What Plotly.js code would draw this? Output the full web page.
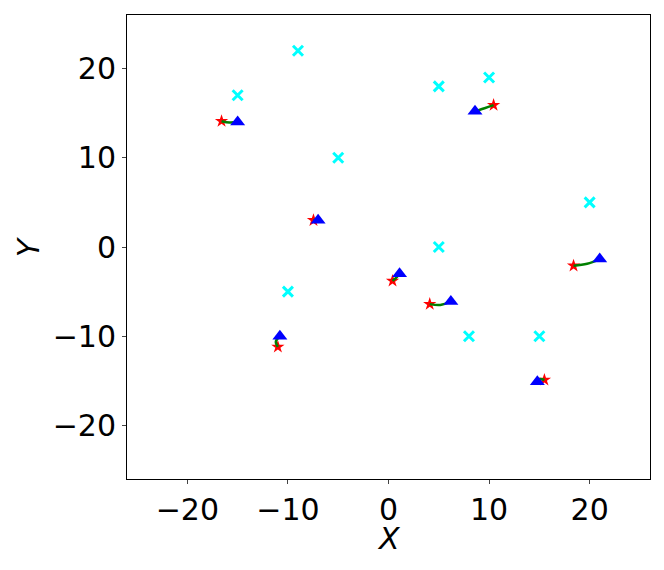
<!DOCTYPE html>
<html>
<head>
<meta charset="utf-8">
<script src="https://cdn.plot.ly/plotly-3.0.1.min.js"></script>
<style>
body{margin:0;padding:0;background:#fff}
#plot{width:664px;height:570px}
</style>
</head>
<body>
<div id="plot"></div>
<script>
// targets
const crossX = [-15, -9, -5, 5, 10, 20, 5, -10, 8, 15]
const crossY = [17, 22, 10, 18, 19, 5, 0, -5, -10, -10]

// start points (stars)
const startX = [-16.6, 10.45, -7.46, 0.4, 4.1, 18.4, -11.0, 15.5]
const startY = [14.1, 15.9, 3.0, -3.8, -6.4, -2.1, -11.2, -14.9]

// middle of each path
const midX = [-15.8, 9.55, -7.2, 0.8, 5.15, 19.75, -11.2, 15.0]
const midY = [13.95, 15.55, 3.05, -3.4, -6.5, -1.87, -10.6, -14.8]

// end points (triangles)
const endX = [-15, 8.6, -7.0, 1.1, 6.2, 21.0, -10.8, 14.8]
const endY = [14, 15.2, 3.0, -3.0, -6.1, -1.35, -10.0, -15.1]

const font = "DejaVu Sans, sans-serif"

const traces = []

traces.push({
x:crossX,
y:crossY,
type:"scatter",
mode:"markers",
marker:{symbol:"x-thin",size:10,color:"#00ffff",line:{width:3,color:"#00ffff"}},
hoverinfo:"none"
})

traces.push({
x:startX,
y:startY,
type:"scatter",
mode:"markers",
marker:{symbol:"star",size:10,color:"#ff0000",line:{width:0}},
hoverinfo:"none"
})

startX.forEach((sx,i)=>{
traces.push({
x:[sx,midX[i],endX[i]],
y:[startY[i],midY[i],endY[i]],
type:"scatter",
mode:"lines",
line:{color:"#008000",width:2.5,shape:"spline"},
hoverinfo:"none"
})
})

traces.push({
x:endX,
y:endY,
type:"scatter",
mode:"markers",
marker:{symbol:"triangle-up",size:13,color:"#0000ff",line:{width:0}},
hoverinfo:"none"
})

const axis = {
range:[-26,26],
tickvals:[-20,-10,0,10,20],
ticks:"outside",
ticklen:4,
tickwidth:1,
showgrid:false,
zeroline:false,
showline:true,
mirror:true,
linecolor:"#000",
linewidth:1,
tickfont:{size:30}
}

Plotly.newPlot(
"plot",
traces,
{
width:664,
height:570,
showlegend:false,
plot_bgcolor:"#fff",
paper_bgcolor:"#fff",
margin:{l:127,r:14,t:15,b:91},
font:{family:font,size:30,color:"#000"},
xaxis:{...axis},
yaxis:{...axis},
annotations:[
{text:"<i>X</i>",xref:"paper",yref:"paper",x:0.501,y:-0.127,xanchor:"center",yanchor:"middle",height:24,borderpad:0,showarrow:false,font:{size:30}},
{text:"<i>Y</i>",xref:"paper",yref:"paper",x:-0.189,y:0.5,xanchor:"center",yanchor:"middle",textangle:-90,showarrow:false,font:{size:30}}
]
},
{staticPlot:true}
)
</script>
</body>
</html>
